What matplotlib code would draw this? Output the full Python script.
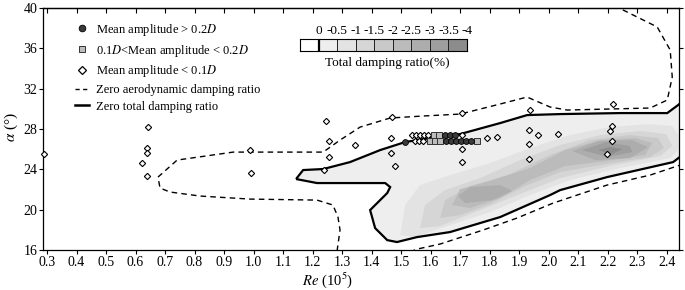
import matplotlib
matplotlib.use("Agg")
import matplotlib.pyplot as plt
from matplotlib.lines import Line2D
from matplotlib.patches import Rectangle, Polygon

plt.rcParams['font.family'] = ['Liberation Serif', 'DejaVu Serif']
plt.rcParams['mathtext.fontset'] = 'stix'

# ---------------- data ----------------
# measured points (Re in 1e5, alpha in deg)
circle_re = [1.513, 1.652, 1.669, 1.686, 1.703, 1.720, 1.737, 1.649, 1.666, 1.683]
circle_alpha = [26.7, 26.8, 26.8, 26.8, 26.8, 26.8, 26.8, 27.4, 27.4, 27.4]

square_re = [1.598, 1.615, 1.632, 1.758, 1.612, 1.629]
square_alpha = [26.8, 26.8, 26.8, 26.85, 27.4, 27.4]

diamond_re = [0.29, 0.642, 0.639, 0.639, 0.622, 0.639, 0.988, 0.992,
              1.246, 1.256, 1.344, 1.256, 1.239, 1.469, 1.466, 1.466, 1.48,
              1.547, 1.561, 1.574, 1.537, 1.551, 1.564, 1.578, 1.592, 1.707,
              1.707, 1.707, 1.707, 1.79, 1.825, 1.937, 1.934, 1.965, 2.032,
              1.934, 1.934, 2.219, 2.215, 2.208, 2.215, 2.198]
diamond_alpha = [25.5, 28.2, 26.1, 25.6, 24.6, 23.3, 25.9, 23.6,
                 28.8, 26.8, 26.4, 25.2, 23.9, 29.2, 27.1, 25.6, 24.3,
                 26.8, 26.8, 26.8, 27.4, 27.4, 27.4, 27.4, 27.4, 27.4,
                 29.6, 26.0, 24.7, 27.1, 27.2, 29.9, 27.9, 27.4, 27.5,
                 26.5, 25.0, 30.5, 28.3, 27.8, 26.8, 25.5]

# zero total damping ratio contour (closed)
zero_total_re = [1.144, 1.168, 1.236, 1.327, 1.429, 1.514, 1.598, 1.700, 1.836, 1.927,
                 2.039, 2.242, 2.402, 2.439, 2.48, 2.48, 2.449, 2.422, 2.198, 2.039,
                 2.005, 1.836, 1.666, 1.554, 1.486, 1.453, 1.412, 1.395, 1.453, 1.463,
                 1.446, 1.215]
zero_total_alpha = [23.04, 23.93, 24.03, 24.72, 25.91, 26.71, 27.10, 27.50, 28.59, 29.38,
                    29.48, 29.58, 29.58, 30.38, 31.4, 25.9, 25.32, 24.72, 23.23, 21.94,
                    21.45, 19.27, 17.78, 17.28, 16.79, 16.98, 18.17, 19.96, 21.65, 22.24,
                    22.64, 22.64]

# zero aerodynamic damping ratio contour (open branches)
zero_aero_re = [1.283, 1.293, 1.286, 1.269, 1.215, 0.988, 0.819, 0.717, 0.683, 0.676,
                0.741, 0.931, 1.236, 1.293, 1.361, 1.463, 1.575, 1.700, 1.836, 1.927,
                2.005, 2.063, 2.344, 2.402, 2.419, 2.412, 2.368, 2.286, 2.232]
zero_aero_alpha = [15.9, 17.98, 19.27, 20.46, 20.95, 21.05, 21.35, 21.75, 22.14, 23.23,
                   24.92, 25.71, 25.71, 26.90, 28.19, 29.09, 29.29, 29.48, 30.48, 31.17,
                   30.18, 29.88, 30.08, 30.87, 33.15, 35.83, 38.12, 39.31, 40.1]
zero_aero2_re = [1.530, 1.554, 1.632, 1.778, 1.893, 2.015, 2.198, 2.344, 2.436, 2.48]
zero_aero2_alpha = [15.8, 16.09, 16.59, 17.98, 19.17, 20.65, 22.44, 23.43, 24.33, 24.7]

# inner total damping contours (-0.5 ... -3.5 %)
c05_re = [1.497, 1.514, 1.564, 1.666, 1.802, 1.937, 2.073, 2.208, 2.344, 2.419, 2.439, 2.439,
          2.412, 2.242, 2.073, 1.937, 1.802, 1.666, 1.547]
c05_alpha = [17.48, 20.46, 22.44, 23.43, 24.62, 26.11, 27.40, 28.19, 28.49, 28.29, 27.40, 25.91,
             25.12, 24.13, 22.94, 21.45, 19.76, 18.47, 17.28]
c10_re = [1.564, 1.581, 1.649, 1.768, 1.903, 2.039, 2.175, 2.310, 2.398, 2.419, 2.378, 2.208,
          2.039, 1.903, 1.768, 1.632]
c10_alpha = [18.17, 20.46, 21.94, 23.13, 24.92, 26.41, 27.40, 27.80, 27.50, 26.31, 25.32, 24.33,
             23.13, 21.55, 19.96, 18.37]
c15_re = [1.632, 1.649, 1.734, 1.869, 2.005, 2.141, 2.276, 2.371, 2.391, 2.344, 2.192, 2.039,
          1.920, 1.802, 1.700]
c15_alpha = [19.17, 20.95, 22.34, 23.53, 25.42, 26.90, 27.40, 27.10, 26.11, 25.22, 24.52, 23.73,
             22.34, 20.56, 19.46]
c20_re = [1.673, 1.700, 1.802, 1.937, 2.056, 2.175, 2.293, 2.351, 2.327, 2.192, 2.056, 1.937,
          1.836, 1.734]
c20_alpha = [20.46, 22.04, 22.84, 24.13, 25.91, 26.90, 27.10, 26.61, 25.42, 24.82, 24.33, 22.94,
             21.15, 20.16]
c25a_re = [1.693, 1.734, 1.836, 1.876, 1.809, 1.717]
c25a_alpha = [21.35, 22.24, 22.44, 21.85, 20.95, 20.65]
c25b_re = [2.080, 2.168, 2.283, 2.337, 2.276, 2.158]
c25b_alpha = [25.81, 26.81, 26.90, 26.21, 25.12, 24.92]
c30_re = [2.114, 2.195, 2.276, 2.283, 2.198]
c30_alpha = [25.91, 26.71, 26.31, 25.71, 25.22]
c35_re = [2.168, 2.208, 2.249, 2.215]
c35_alpha = [25.91, 26.21, 26.01, 25.52]

cbar_labels = ['0', '-0.5', '-1', '-1.5', '-2', '-2.5', '-3', '-3.5', '-4']
cbar_colors = ['#ffffff', '#eeeeee', '#e3e3e3', '#d6d6d6', '#c9c9c9',
               '#bbbbbb', '#adadad', '#9e9e9e', '#8c8c8c']

x_ticks = [0.3, 0.4, 0.5, 0.6, 0.7, 0.8, 0.9, 1.0, 1.1, 1.2, 1.3, 1.4,
           1.5, 1.6, 1.7, 1.8, 1.9, 2.0, 2.1, 2.2, 2.3, 2.4]
y_ticks = [16, 20, 24, 28, 32, 36, 40]

# ---------------- figure ----------------
fig = plt.figure(figsize=(6.85, 2.90), dpi=100)
ax = fig.add_axes([0.0628, 0.1379, 0.9285, 0.8345])
ax.set_xlim(0.2864, 2.442)
ax.set_ylim(16, 40)

# filled contour levels
levels = [
    (zero_total_re, zero_total_alpha, cbar_colors[1]),
    (c05_re, c05_alpha, cbar_colors[2]),
    (c10_re, c10_alpha, cbar_colors[3]),
    (c15_re, c15_alpha, cbar_colors[4]),
    (c20_re, c20_alpha, cbar_colors[5]),
    (c25a_re, c25a_alpha, cbar_colors[6]),
    (c25b_re, c25b_alpha, cbar_colors[6]),
    (c30_re, c30_alpha, cbar_colors[7]),
    (c35_re, c35_alpha, cbar_colors[8]),
]
for i, (xs, ys, col) in enumerate(levels):
    ax.add_patch(Polygon(list(zip(xs, ys)), closed=True, facecolor=col,
                         edgecolor='none', zorder=1 + i * 0.01))

# contour lines
ax.add_patch(Polygon(list(zip(zero_total_re, zero_total_alpha)), closed=True,
                     facecolor='none', edgecolor='black', lw=1.6, zorder=2))
ax.plot(zero_aero_re, zero_aero_alpha, color='black', lw=1.0,
        linestyle=(0, (4, 3)), zorder=2)
ax.plot(zero_aero2_re, zero_aero2_alpha, color='black', lw=1.0,
        linestyle=(0, (4, 3)), zorder=2)

# points
ax.plot(diamond_re, diamond_alpha, linestyle='none', marker='D', ms=3.2,
        mfc='white', mec='black', mew=0.8, zorder=3, clip_on=False)
ax.plot(square_re, square_alpha, linestyle='none', marker='s', ms=4.2,
        mfc='#bdbdbd', mec='#333333', mew=0.7, zorder=4)
ax.plot(circle_re, circle_alpha, linestyle='none', marker='o', ms=4.2,
        mfc='#3a3a3a', mec='black', mew=0.6, zorder=4)

# axes & ticks
ax.set_xticks(x_ticks)
ax.set_xticklabels(['%.1f' % v for v in x_ticks])
ax.set_yticks(y_ticks)
ax.tick_params(axis='x', direction='out', length=3, width=0.8, labelsize=10, pad=1.5)
ax.tick_params(axis='y', direction='out', length=3, width=0.8, labelsize=10, pad=1,
               right=True)
secx = ax.secondary_xaxis('top')
secx.set_xticks(x_ticks)
secx.tick_params(direction='in', length=3.5, width=0.8, labeltop=False)
for sp in list(ax.spines.values()) + list(secx.spines.values()):
    sp.set_linewidth(0.9)

ax.set_xlabel(r'$Re$ (10$^5$)', fontsize=10.5)
ax.xaxis.set_label_coords(0.447, -0.085)
ax.set_ylabel(r'$\alpha$ (°)', fontsize=11)
ax.yaxis.set_label_coords(-0.036, 0.508)

# legend
handles = [
    Line2D([], [], linestyle='none', marker='o', ms=4.8, mfc='#3a3a3a', mec='black', mew=0.6),
    Line2D([], [], linestyle='none', marker='s', ms=4.8, mfc='#bdbdbd', mec='#333333', mew=0.7),
    Line2D([], [], linestyle='none', marker='D', ms=3.6, mfc='white', mec='black', mew=0.9),
    Line2D([], [], color='black', lw=1.0, linestyle=(0, (3, 2.5))),
    Line2D([], [], color='black', lw=1.8),
]
labels = [r'Mean amplitude > 0.2$D$', r'0.1$D$<Mean amplitude < 0.2$D$',
          r'Mean amplitude < 0.1$D$', 'Zero aerodynamic damping ratio',
          'Zero total damping ratio']
ax.legend(handles, labels, loc='upper left', bbox_to_anchor=(0.05, 0.943),
          frameon=False, fontsize=9, handlelength=1.15, handletextpad=0.55,
          labelspacing=0.38, borderpad=0, borderaxespad=0)

# colour bar key
cax = fig.add_axes([300 / 685, 1 - 51 / 290, 167 / 685, 12 / 290])
cax.set_xlim(0, 9)
cax.set_ylim(0, 1)
for i, c in enumerate(cbar_colors):
    cax.add_patch(Rectangle((i, 0), 1, 1, facecolor=c, edgecolor='#222222', lw=0.7))
cax.plot([1, 1], [0, 1], color='black', lw=1.6)
cax.set_xticks([])
cax.set_yticks([])
for sp in cax.spines.values():
    sp.set_linewidth(0.8)
for i, lab in enumerate(cbar_labels):
    cax.text(i + 1, 1.15, lab, ha='center', va='bottom', fontsize=9.5)
fig.text(387 / 685, 1 - 63 / 290, 'Total damping ratio(%)', ha='center', va='center',
         fontsize=9.5)

fig.savefig('out.png', dpi=100)
